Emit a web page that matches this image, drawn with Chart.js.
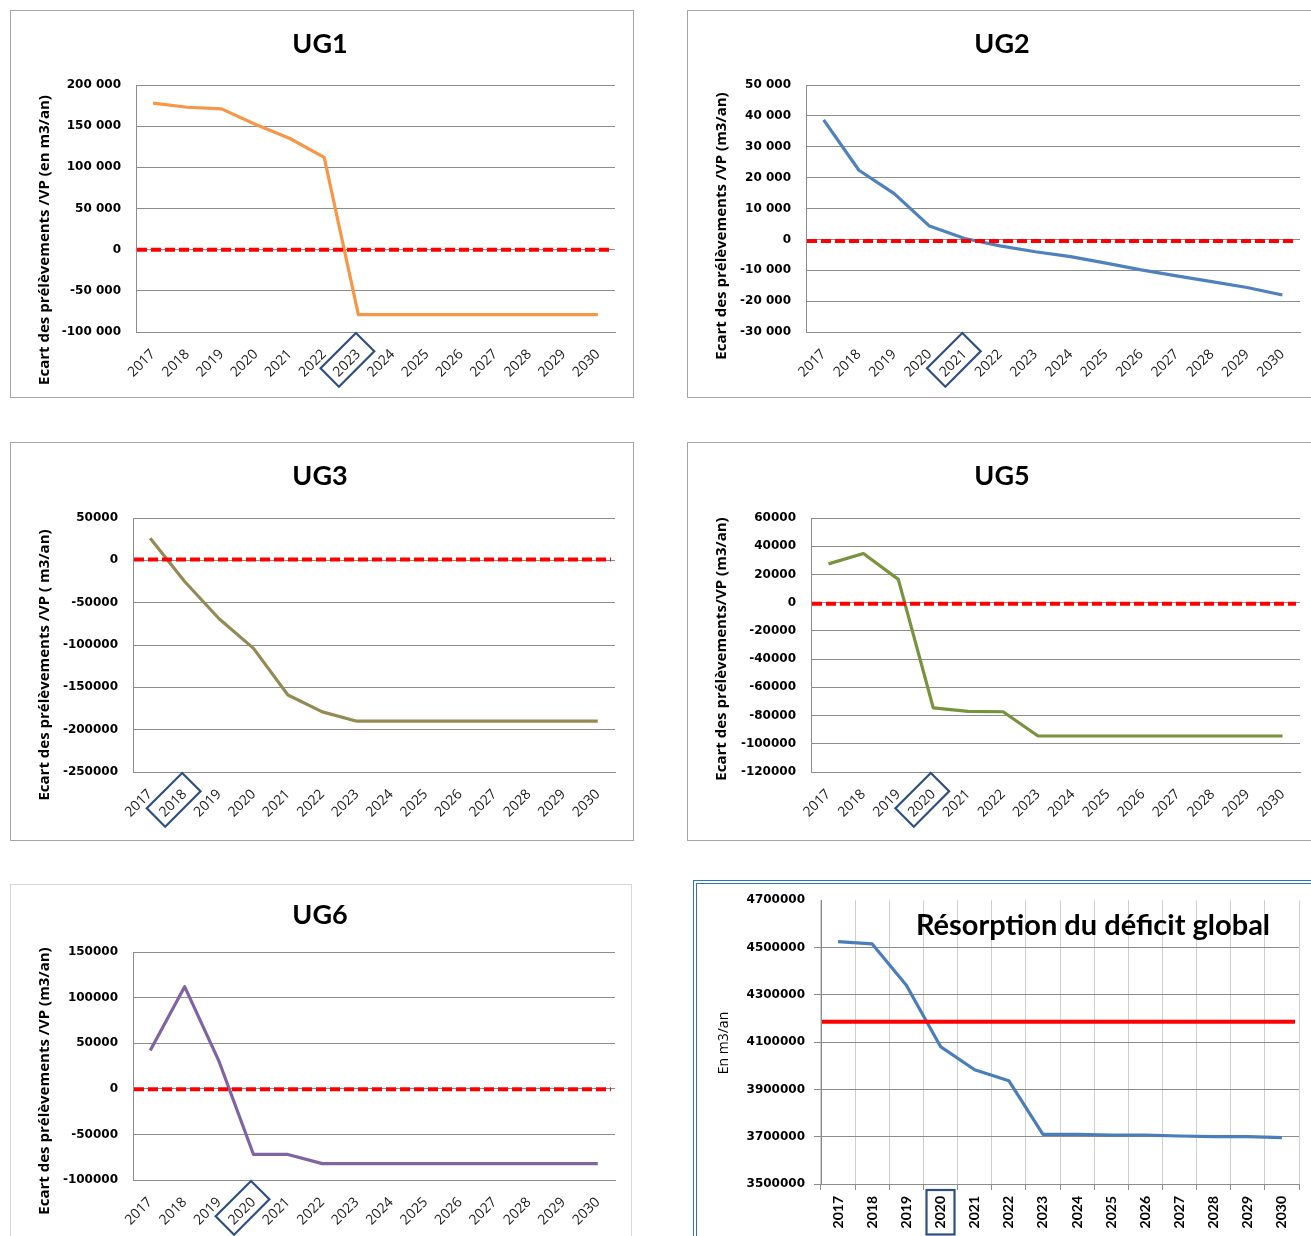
<!DOCTYPE html>
<html>
<head>
<meta charset="utf-8">
<script src="https://cdn.jsdelivr.net/npm/chart.js@4.4.1/dist/chart.umd.min.js"></script>
<style>
  body { margin: 0; background: #fff; width: 1311px; height: 1236px; overflow: hidden; position: relative; }
  .panel { position: absolute; box-sizing: border-box; background: #fff; border: 1px solid #a5a5a5; overflow: hidden; }
  .panel canvas { display: block; }
</style>
</head>
<body>

<div class="panel" style="left:10px;top:10px;width:624px;height:388px"><canvas id="ug1" width="622" height="386"></canvas></div>
<div class="panel" style="left:687px;top:10px;width:640px;height:388px"><canvas id="ug2" width="638" height="386"></canvas></div>
<div class="panel" style="left:10px;top:442px;width:624px;height:399px"><canvas id="ug3" width="622" height="397"></canvas></div>
<div class="panel" style="left:687px;top:442px;width:640px;height:399px"><canvas id="ug5" width="638" height="397"></canvas></div>
<div class="panel" style="left:10px;top:884px;width:622px;height:370px;border-color:#d6d6d6"><canvas id="ug6" width="620" height="368"></canvas></div>
<div class="panel" style="left:693px;top:880px;width:640px;height:370px;border:4px double #2e75b6"><canvas id="global" width="632" height="362"></canvas></div>

<script>
// années du plan
const annees = ['2017', '2018', '2019', '2020', '2021', '2022', '2023', '2024', '2025', '2026', '2027', '2028', '2029', '2030'];

// écart des prélèvements / volume prélevable, par unité de gestion (m3/an)
const ecartUG1 = [178000, 173000, 171000, 152000, 135000, 112000, -79000, -79000, -79000, -79000, -79000, -79000, -79000, -79000];
const ecartUG2 = [38700, 22400, 14800, 4300, 300, -2100, -4000, -5600, -7700, -9900, -11800, -13700, -15600, -18000];
const ecartUG3 = [26000, -25000, -69000, -104000, -159000, -179000, -190000, -190000, -190000, -190000, -190000, -190000, -190000, -190000];
const ecartUG5 = [27500, 34800, 16500, -74500, -77000, -77300, -94500, -94500, -94500, -94500, -94500, -94500, -94500, -94500];
const ecartUG6 = [42000, 112000, 30000, -72000, -72000, -82000, -82000, -82000, -82000, -82000, -82000, -82000, -82000, -82000];

// prélèvements globaux (m3/an) et volume prélevable global
const prelevementsGlobal = [4525000, 4515000, 4340000, 4081000, 3983000, 3937000, 3710000, 3710000, 3707000, 3707000, 3703000, 3700000, 3700000, 3696000];
const volumePrelevable = 4186000;

// graduations des axes y
const ticksUG1 = [-100000, -50000, 0, 50000, 100000, 150000, 200000];
const ticksUG2 = [-30000, -20000, -10000, 0, 10000, 20000, 30000, 40000, 50000];
const ticksUG3 = [-250000, -200000, -150000, -100000, -50000, 0, 50000];
const ticksUG5 = [-120000, -100000, -80000, -60000, -40000, -20000, 0, 20000, 40000, 60000];
const ticksUG6 = [-100000, -50000, 0, 50000, 100000, 150000];
const ticksGlobal = [3500000, 3700000, 3900000, 4100000, 4300000, 4500000, 4700000];

// année d'équilibre encadrée sur chaque graphique
const equilibreUG1 = '2023', equilibreUG2 = '2021', equilibreUG3 = '2018';
const equilibreUG5 = '2020', equilibreUG6 = '2020', equilibreGlobal = '2020';

function espaceMilliers(v) {
    return String(v).replace(/\B(?=(\d{3})+(?!\d))/g, ' ');
}

// ligne horizontale de référence (écart nul / volume prélevable)
const pluginLigneRef = {
    id: 'ligneRef',
    afterDatasetsDraw(chart, args, opts) {
        const y = chart.scales.y.getPixelForValue(opts.valeur);
        const area = chart.chartArea;
        const ctx = chart.ctx;
        ctx.save();
        ctx.strokeStyle = opts.couleur;
        ctx.lineWidth = opts.epaisseur;
        ctx.setLineDash(opts.tirets || []);
        ctx.beginPath();
        ctx.moveTo(area.left + 1, y);
        ctx.lineTo(area.right - 4, y);
        ctx.stroke();
        ctx.restore();
    }
};

// titre de l'axe y, placé comme dans le document d'origine
const pluginTitreAxe = {
    id: 'titreAxe',
    afterDraw(chart, args, opts) {
        const ctx = chart.ctx;
        ctx.save();
        ctx.translate(opts.x, opts.y);
        ctx.rotate(-Math.PI / 2);
        ctx.font = opts.font;
        ctx.fillStyle = '#000';
        ctx.textAlign = 'center';
        ctx.textBaseline = 'middle';
        ctx.fillText(opts.texte, 0, 0);
        ctx.restore();
    }
};

// cadre autour de l'année d'équilibre sur l'axe x
const pluginAnneeCible = {
    id: 'anneeCible',
    afterDraw(chart, args, opts) {
        const x = chart.scales.x;
        const i = chart.data.labels.indexOf(opts.label);
        if (i < 0) return;
        const rot = -x.labelRotation * Math.PI / 180;
        const font = Chart.helpers.toFont(x.options.ticks.font);
        const grid = x.options.grid;
        const tl = (grid.display && grid.drawTicks) ? grid.tickLength : 0;
        const ctx = chart.ctx;
        ctx.save();
        ctx.font = font.string;
        const w = ctx.measureText(opts.label).width;
        const px = x.getPixelForTick(i) + (font.lineHeight / 2) * Math.sin(rot);
        const py = x.top + tl + x.options.ticks.padding;
        ctx.translate(px, py);
        ctx.rotate(rot);
        ctx.translate(opts.dx || 0, opts.dy || 0);
        ctx.strokeStyle = opts.couleur;
        ctx.lineWidth = 2.2;
        ctx.strokeRect(-w - opts.marge, font.lineHeight / 2 - font.size / 2 - opts.margeH,
            w + 2 * opts.marge, font.size + 2 * opts.margeH);
        ctx.restore();
    }
};

// titre dessiné dans la zone du graphique
const pluginTitreInterne = {
    id: 'titreInterne',
    afterDraw(chart, args, opts) {
        if (!opts.texte) return;
        const ctx = chart.ctx;
        ctx.save();
        ctx.font = opts.font;
        ctx.fillStyle = '#000';
        ctx.textAlign = 'center';
        ctx.textBaseline = 'middle';
        ctx.fillText(opts.texte, opts.x, opts.y);
        ctx.restore();
    }
};

function graphiqueUG(id, cfg) {
    const canvas = document.getElementById(id);
    const W = canvas.width, H = canvas.height;
    const padLeft = 2 * cfg.titreX - cfg.droite;
    return new Chart(canvas, {
        type: 'line',
        data: {
            labels: annees,
            datasets: [{
                data: cfg.valeurs,
                borderColor: cfg.couleur,
                borderWidth: 3.2,
                pointRadius: 0,
                tension: 0,
                fill: false,
                borderJoinStyle: 'round'
            }]
        },
        options: {
            responsive: false,
            animation: false,
            events: [],
            layout: { padding: { left: padLeft, right: W - cfg.droite, top: 0, bottom: 0 } },
            plugins: {
                legend: { display: false },
                tooltip: { enabled: false },
                title: {
                    display: true,
                    text: cfg.titre,
                    color: '#000',
                    font: { family: 'Lato', size: 27, weight: 'bold', lineHeight: 1.2 },
                    padding: { top: cfg.titreY - 16, bottom: cfg.haut - cfg.titreY - 16.4 }
                },
                ligneRef: { valeur: cfg.seuil, couleur: '#ff0000', epaisseur: 4, tirets: [10, 4] },
                titreAxe: { texte: cfg.titreAxe, x: 34, y: cfg.titreAxeY, font: 'bold 15px "Open Sans"' },
                anneeCible: { label: cfg.cible, couleur: '#2f4f80', marge: 9, margeH: 6, dx: -3, dy: 3.5 }
            },
            scales: {
                x: {
                    offset: true,
                    grid: { display: false },
                    border: { display: true, color: '#8c8c8c' },
                    ticks: {
                        minRotation: 45, maxRotation: 45, autoSkip: false, padding: 6,
                        color: '#1a1a1a',
                        font: { family: 'Open Sans', size: 14 }
                    },
                    afterFit: (s) => { s.height = H - cfg.bas; }
                },
                y: {
                    min: cfg.ticks[0],
                    max: cfg.ticks[cfg.ticks.length - 1],
                    grid: { color: '#8c8c8c', drawTicks: false },
                    border: { display: true, color: '#8c8c8c' },
                    ticks: {
                        stepSize: cfg.ticks[1] - cfg.ticks[0],
                        padding: 15,
                        color: '#000',
                        font: { family: 'DejaVu Sans', size: 12, weight: 'bold' },
                        callback: cfg.espaces ? (v) => espaceMilliers(v) : (v) => String(v)
                    },
                    afterFit: (s) => { s.width = cfg.gauche - padLeft; }
                }
            }
        },
        plugins: [pluginLigneRef, pluginTitreAxe, pluginAnneeCible]
    });
}

graphiqueUG('ug1', {
    titre: 'UG1', valeurs: ecartUG1, couleur: '#f79646', ticks: ticksUG1, espaces: true, seuil: 0,
    titreAxe: 'Ecart des prélèvements /VP (en m3/an)', cible: equilibreUG1,
    gauche: 125, droite: 604, haut: 74, bas: 321, titreX: 309, titreY: 33, titreAxeY: 229
});
graphiqueUG('ug2', {
    titre: 'UG2', valeurs: ecartUG2, couleur: '#4f81bd', ticks: ticksUG2, espaces: true, seuil: -500,
    titreAxe: 'Ecart des prélèvements /VP (m3/an)', cible: equilibreUG2,
    gauche: 118, droite: 612, haut: 74, bas: 321, titreX: 314, titreY: 33, titreAxeY: 215
});
graphiqueUG('ug3', {
    titre: 'UG3', valeurs: ecartUG3, couleur: '#948a54', ticks: ticksUG3, espaces: false, seuil: 1000,
    titreAxe: 'Ecart des prélèvements /VP ( m3/an)', cible: equilibreUG3,
    gauche: 122, droite: 604, haut: 75, bas: 329, titreX: 309, titreY: 33, titreAxeY: 222
});
graphiqueUG('ug5', {
    titre: 'UG5', valeurs: ecartUG5, couleur: '#77933c', ticks: ticksUG5, espaces: false, seuil: -800,
    titreAxe: 'Ecart des prélèvements/VP (m3/an)', cible: equilibreUG5,
    gauche: 123, droite: 612, haut: 75, bas: 329, titreX: 314, titreY: 33, titreAxeY: 206
});
graphiqueUG('ug6', {
    titre: 'UG6', valeurs: ecartUG6, couleur: '#8064a2', ticks: ticksUG6, espaces: false, seuil: -500,
    titreAxe: 'Ecart des prélèvements /VP (m3/an)', cible: equilibreUG6,
    gauche: 122, droite: 604, haut: 67, bas: 295, titreX: 309, titreY: 30, titreAxeY: 196
});

// graphique global
(function () {
    const canvas = document.getElementById('global');
    const W = canvas.width, H = canvas.height;
    const haut = 15, bas = 300, gauche = 124, droite = 602;
    const maxY = ticksGlobal[ticksGlobal.length - 1];
    new Chart(canvas, {
        type: 'line',
        data: {
            labels: annees,
            datasets: [{
                data: prelevementsGlobal,
                borderColor: '#4a7ebb',
                borderWidth: 3.2,
                pointRadius: 0,
                tension: 0,
                fill: false,
                borderJoinStyle: 'round'
            }]
        },
        options: {
            responsive: false,
            animation: false,
            events: [],
            layout: { padding: { left: 0, right: W - droite, top: haut, bottom: 0 } },
            plugins: {
                legend: { display: false },
                tooltip: { enabled: false },
                title: { display: false },
                ligneRef: { valeur: volumePrelevable, couleur: '#ff0000', epaisseur: 4 },
                titreAxe: { texte: 'En m3/an', x: 27, y: 159, font: '14px "Open Sans"' },
                anneeCible: { label: equilibreGlobal, couleur: '#2f4f80', marge: 6, margeH: 7 },
                titreInterne: { texte: 'Résorption du déficit global', x: 396, y: 42, font: 'bold 29px Lato' }
            },
            scales: {
                x: {
                    offset: true,
                    grid: { display: true, offset: true, color: '#cfcfcf', tickColor: '#8c8c8c', tickLength: 6 },
                    border: { display: true, color: '#8c8c8c' },
                    ticks: {
                        minRotation: 90, maxRotation: 90, autoSkip: false, padding: 6,
                        color: '#000',
                        font: { family: 'Lato', size: 14, weight: 'bold' }
                    },
                    afterFit: (s) => { s.height = H - bas; }
                },
                y: {
                    min: ticksGlobal[0],
                    max: maxY,
                    grid: {
                        color: (c) => (c.tick && c.tick.value === maxY) ? 'rgba(0,0,0,0)' : '#8c8c8c',
                        tickLength: 7
                    },
                    border: { display: true, color: '#8c8c8c' },
                    ticks: {
                        stepSize: ticksGlobal[1] - ticksGlobal[0],
                        padding: 9,
                        color: '#000',
                        font: { family: 'DejaVu Sans', size: 12, weight: 'bold' },
                        callback: (v) => String(v)
                    },
                    afterFit: (s) => { s.width = gauche; }
                }
            }
        },
        plugins: [pluginLigneRef, pluginTitreAxe, pluginAnneeCible, pluginTitreInterne]
    });
})();
</script>
</body>
</html>
